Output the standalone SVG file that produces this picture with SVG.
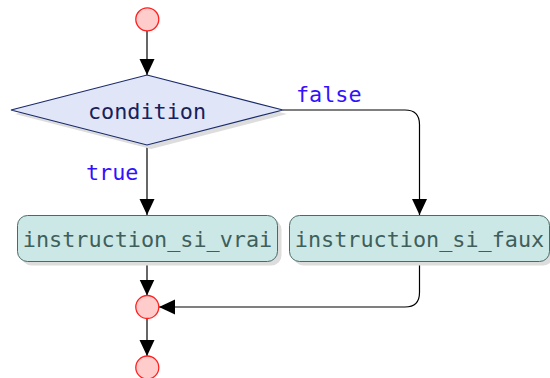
<svg xmlns="http://www.w3.org/2000/svg" width="550" height="378" viewBox="0 0 550 378">
  <style>
    .txt { font-family: "DejaVu Sans Mono", "Liberation Mono", monospace; font-size: 21.8px; }
    .lbl { fill: #3311ff; text-anchor: start; }
    .circle { fill: #ffcccc; stroke: #ff2020; stroke-width: 1.3; }
    .box { fill: #cce8e6; stroke: #4a6a68; stroke-width: 1; }
    .boxtxt { fill: #3f5f5c; text-anchor: middle; }
    .shadow { fill: #dddddd; }
    .edge { fill: none; stroke: #000; stroke-width: 1.2; }
  </style>
  <defs>
    <marker id="arrow" viewBox="0 0 16 16" refX="16" refY="8" markerWidth="16" markerHeight="16" markerUnits="userSpaceOnUse" orient="auto">
      <path d="M0,0.5 L16,8 L0,15.5 Z" fill="#000"/>
    </marker>
  </defs>

  <g id="connectors">
    <path class="edge" d="M147,31 V75" marker-end="url(#arrow)"/>
    <path class="edge" d="M147,145 V215" marker-end="url(#arrow)"/>
    <path class="edge" d="M283,110 H405 Q419.5,110 419.5,124.5 V215" marker-end="url(#arrow)"/>
    <path class="edge" d="M147,262 V295.5" marker-end="url(#arrow)"/>
    <path class="edge" d="M419.5,262 V292.5 Q419.5,307 405,307 H159" marker-end="url(#arrow)"/>
    <path class="edge" d="M147,318.5 V356" marker-end="url(#arrow)"/>
    <text class="txt lbl" x="296" y="101.5">false</text>
    <text class="txt lbl" x="86" y="179.5">true</text>
  </g>

  <g id="start">
    <circle class="circle" cx="147.3" cy="19.3" r="11.5"/>
  </g>

  <g id="condition">
    <polygon class="shadow" points="151,79 287,114 151,149 15,114"/>
    <polygon points="147,75 283,110 147,145 11,110" fill="#e0e6f8" stroke="#1a2a6a" stroke-width="1.2"/>
    <text class="txt" x="147" y="118.5" text-anchor="middle" fill="#17215a">condition</text>
  </g>

  <g id="instruction_si_vrai">
    <rect class="shadow" x="21.5" y="219.5" width="260" height="46" rx="10"/>
    <rect class="box" x="17.5" y="215.5" width="260" height="46" rx="10"/>
    <text class="txt boxtxt" x="147.5" y="246.5">instruction_si_vrai</text>
  </g>

  <g id="instruction_si_faux">
    <rect class="shadow" x="293.5" y="219.5" width="260" height="46" rx="10"/>
    <rect class="box" x="289.5" y="215.5" width="260" height="46" rx="10"/>
    <text class="txt boxtxt" x="419.5" y="246.5">instruction_si_faux</text>
  </g>

  <g id="merge">
    <circle class="circle" cx="147.3" cy="307" r="11.5"/>
  </g>

  <g id="end">
    <circle class="circle" cx="147.3" cy="367.5" r="11.5"/>
  </g>
</svg>
